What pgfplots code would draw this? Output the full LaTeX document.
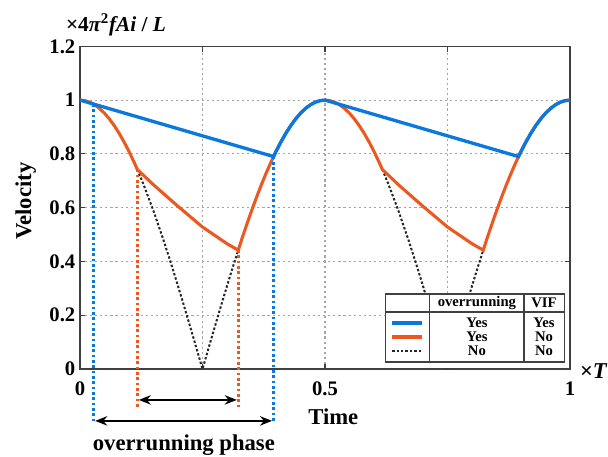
\documentclass[border=0pt]{standalone}
\usepackage{fontspec}
\setmainfont{Liberation Serif}
\usepackage{pgfplots}
\pgfplotsset{compat=1.18}
\usetikzlibrary{arrows.meta}
\definecolor{vblue}{RGB}{10,120,220}
\definecolor{vorange}{RGB}{235,88,32}
\definecolor{vgrid}{RGB}{165,165,165}

\begin{document}
\begin{tikzpicture}
\begin{axis}[
    scale only axis,
    width=367.5pt, height=242pt,
    xmin=0, xmax=1, ymin=0, ymax=1.2,
    xtick={0,0.25,0.5,0.75,1},
    xticklabels={0,,0.5,,1},
    ytick={0,0.2,0.4,0.6,0.8,1,1.2},
    grid=major,
    grid style={vgrid, line width=0.9pt, dash pattern=on 1.6pt off 2.2pt},
    axis line style={line width=1pt, black!75},
    tick style={black!75, line width=0.8pt},
    major tick length=4pt,
    tick label style={font=\bfseries\fontsize{15.5}{16}\selectfont},
    /pgf/number format/assume math mode=true,
    xticklabel style={yshift=-6pt},
    clip=false,
]
% "No" overrunning (dotted)
\addplot[black!85, line width=1.5pt, dash pattern=on 1.8pt off 1.5pt] coordinates {
    (0.117,0.742) (0.13,0.6845) (0.15,0.5878) (0.17,0.4818) (0.19,0.3681)
    (0.21,0.2487) (0.23,0.1253) (0.25,0) (0.27,0.1253) (0.29,0.2487)
    (0.31,0.3681) (0.323,0.442)
};
\addplot[black!85, line width=1.5pt, dash pattern=on 1.8pt off 1.5pt] coordinates {
    (0.617,0.742) (0.63,0.6845) (0.65,0.5878) (0.67,0.4818) (0.69,0.3681)
    (0.71,0.2487) (0.73,0.1253) (0.75,0) (0.77,0.1253) (0.79,0.2487)
    (0.81,0.3681) (0.823,0.442)
};
% overrunning without VIF
\addplot[vorange, line width=2.3pt] coordinates {
    (0,1) (0.01,0.998) (0.02,0.9921) (0.03,0.9823) (0.04,0.9686) (0.05,0.9511)
    (0.06,0.9298) (0.07,0.9048) (0.08,0.8763) (0.09,0.8443) (0.10,0.8090)
    (0.11,0.7705) (0.117,0.742)
    (0.15,0.685) (0.2,0.605) (0.25,0.528) (0.3,0.466) (0.323,0.442)
    (0.33,0.4818) (0.34,0.5358) (0.35,0.5878) (0.36,0.6374) (0.37,0.6845)
    (0.38,0.7290) (0.39,0.7705) (0.40,0.8090) (0.41,0.8443) (0.42,0.8763)
    (0.43,0.9048) (0.44,0.9298) (0.45,0.9511) (0.46,0.9686) (0.47,0.9823)
    (0.48,0.9921) (0.49,0.998) (0.5,1)
    (0.51,0.998) (0.52,0.9921) (0.53,0.9823) (0.54,0.9686) (0.55,0.9511)
    (0.56,0.9298) (0.57,0.9048) (0.58,0.8763) (0.59,0.8443) (0.60,0.8090)
    (0.61,0.7705) (0.617,0.742)
    (0.65,0.685) (0.7,0.605) (0.75,0.528) (0.8,0.466) (0.823,0.442)
    (0.83,0.4818) (0.84,0.5358) (0.85,0.5878) (0.86,0.6374) (0.87,0.6845)
    (0.88,0.7290) (0.89,0.7705) (0.90,0.8090) (0.91,0.8443) (0.92,0.8763)
    (0.93,0.9048) (0.94,0.9298) (0.95,0.9511) (0.96,0.9686) (0.97,0.9823)
    (0.98,0.9921) (0.99,0.998) (1,1)
};
% overrunning with VIF
\addplot[vblue, line width=2.5pt] coordinates {
    (0,1) (0.395,0.790)
    (0.40,0.8090) (0.41,0.8443) (0.42,0.8763) (0.43,0.9048) (0.44,0.9298)
    (0.45,0.9511) (0.46,0.9686) (0.47,0.9823) (0.48,0.9921) (0.49,0.998) (0.5,1)
    (0.895,0.790)
    (0.90,0.8090) (0.91,0.8443) (0.92,0.8763) (0.93,0.9048) (0.94,0.9298)
    (0.95,0.9511) (0.96,0.9686) (0.97,0.9823) (0.98,0.9921) (0.99,0.998) (1,1)
};
% phase markers
\addplot[vblue, line width=2pt, dash pattern=on 2pt off 2pt, forget plot] coordinates {(0.028,0.985) (0.028,-0.20)};
\addplot[vblue, line width=2pt, dash pattern=on 2pt off 2pt, forget plot] coordinates {(0.395,0.790) (0.395,-0.20)};
\addplot[vorange, line width=2pt, dash pattern=on 2pt off 2pt, forget plot] coordinates {(0.117,0.742) (0.117,-0.145)};
\addplot[vorange, line width=2pt, dash pattern=on 2pt off 2pt, forget plot] coordinates {(0.323,0.442) (0.323,-0.145)};
\draw[{Stealth[length=9pt,width=7pt]}-{Stealth[length=9pt,width=7pt]}, line width=1.7pt]
    (axis cs:0.120,-0.115) -- (axis cs:0.320,-0.115);
\draw[{Stealth[length=9pt,width=7pt]}-{Stealth[length=9pt,width=7pt]}, line width=1.7pt]
    (axis cs:0.031,-0.193) -- (axis cs:0.392,-0.193);

% labels
\node[font=\bfseries\fontsize{17}{17}\selectfont, anchor=base] at (rel axis cs:0.212,-0.254) {overrunning phase};
\node[font=\bfseries\fontsize{17}{17}\selectfont, anchor=base] at (rel axis cs:0.517,-0.173) {Time};
\node[font=\bfseries\fontsize{17}{17}\selectfont, rotate=90] at (rel axis cs:-0.111,0.52) {Velocity};
\node[font=\bfseries\fontsize{17}{17}\selectfont, anchor=base west, inner sep=0pt] at (rel axis cs:1.02,-0.028) {×\textit{T}};
\node[font=\bfseries\fontsize{16}{16}\selectfont, anchor=base west, inner sep=0pt] at (rel axis cs:-0.029,1.046) {×4\textit{π}\textsuperscript{2}\textit{fAi} / \textit{L}};

% legend table
\fill[white] (axis cs:0.623,0.005) rectangle (axis cs:0.997,0.279);
\draw[black!75, line width=0.9pt] (axis cs:0.623,0.026) rectangle (axis cs:0.988,0.279);
\draw[black!75, line width=0.9pt] (axis cs:0.623,0.212) -- (axis cs:0.988,0.212);
\draw[black!75, line width=0.9pt] (axis cs:0.713,0.026) -- (axis cs:0.713,0.279);
\draw[black!75, line width=0.9pt] (axis cs:0.906,0.026) -- (axis cs:0.906,0.279);
\draw[vblue, line width=2.5pt] (axis cs:0.637,0.171) -- (axis cs:0.698,0.171);
\draw[vorange, line width=2.3pt] (axis cs:0.637,0.119) -- (axis cs:0.698,0.119);
\draw[black!85, line width=1.5pt, dash pattern=on 1.8pt off 1.5pt] (axis cs:0.637,0.067) -- (axis cs:0.698,0.067);
\begin{scope}[every node/.style={font=\bfseries\fontsize{11}{11}\selectfont, inner sep=0pt}]
\node at (axis cs:0.810,0.245) {overrunning};
\node at (axis cs:0.947,0.245) {VIF};
\node at (axis cs:0.810,0.171) {Yes};
\node at (axis cs:0.810,0.119) {Yes};
\node at (axis cs:0.810,0.067) {No};
\node at (axis cs:0.947,0.171) {Yes};
\node at (axis cs:0.947,0.119) {No};
\node at (axis cs:0.947,0.067) {No};
\end{scope}
\end{axis}
\pgfresetboundingbox
\path ([shift={(-60pt,-66pt)}]current axis.south west) rectangle ([shift={(396pt,276.75pt)}]current axis.south west);
\end{tikzpicture}
\end{document}
